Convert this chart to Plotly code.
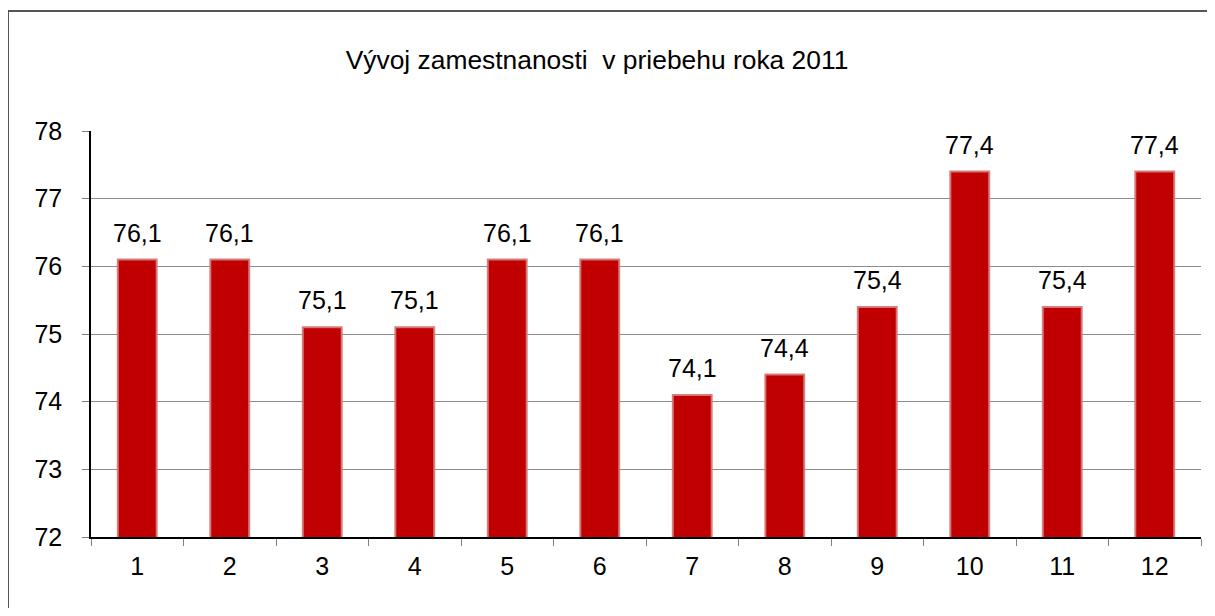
import plotly.graph_objects as go

months = ["1", "2", "3", "4", "5", "6", "7", "8", "9", "10", "11", "12"]
values = [76.1, 76.1, 75.1, 75.1, 76.1, 76.1, 74.1, 74.4, 75.4, 77.4, 75.4, 77.4]
labels = [f"{v:.1f}".replace(".", ",") for v in values]
title = "Vývoj zamestnanosti  v priebehu roka 2011"

# page body has an 8px margin on every side; keep the figure inside the window
OFF = 8
W, H = 1215 - 2 * OFF, 616 - 2 * OFF
L, T = 91 - OFF, 131 - OFF
R = W - (1201 - OFF)
B = H - (537 - OFF)
FRAME_X, FRAME_Y = 9 - OFF, 12 - OFF
FONT = "Liberation Sans, Arial"

fig = go.Figure()
fig.add_trace(go.Bar(
    x=months, y=values,
    marker=dict(color="#C00000", line=dict(color="rgba(214,120,120,0.95)", width=2)),
    width=0.42,
))

# invisible helper trace so the frame axes (x2/y2) are rendered
fig.add_trace(go.Scatter(x=[0.5], y=[0.5], xaxis="x2", yaxis="y2", mode="markers",
                         marker=dict(opacity=0, size=1), hoverinfo="skip", showlegend=False))

for i, (v, lab) in enumerate(zip(values, labels)):
    fig.add_annotation(x=i, y=v, xref="x", yref="y", text=lab, showarrow=False, yanchor="bottom",
                       yshift=11, font=dict(family=FONT, size=25, color="black"))

frame_axis = dict(showline=True, linecolor="#555555", linewidth=1.5, showgrid=False,
                  zeroline=False, showticklabels=False, ticks="", range=[0, 1],
                  fixedrange=True)

fig.update_layout(
    width=W, height=H,
    margin=dict(l=0, r=0, t=0, b=0, autoexpand=False),
    paper_bgcolor="white", plot_bgcolor="rgba(0,0,0,0)",
    showlegend=False,
    title=dict(text=title, x=(597 - OFF) / W, xanchor="center", y=1 - (60 - OFF) / H, yanchor="middle",
               font=dict(family=FONT, size=26.4, color="black")),
    font=dict(family=FONT, size=25, color="black"),
    xaxis=dict(domain=[L / W, (W - R) / W], anchor="y",
               type="category", tickson="boundaries", ticks="outside", ticklen=7,
               tickcolor="#808080", showline=True, linecolor="black", linewidth=1.5,
               showgrid=False, tickfont=dict(size=25), range=[-0.5, 11.5],
               ticklabelstandoff=6),
    yaxis=dict(domain=[B / H, (H - T) / H], anchor="x",
               range=[72, 78], dtick=1, ticks="outside", ticklen=7, tickcolor="#808080",
               showline=True, linecolor="black", linewidth=1.5,
               showgrid=True, gridcolor="#8c8c8c", gridwidth=1, zeroline=False,
               tickfont=dict(size=25), ticklabelstandoff=15),
    # chart frame: only its top and left edges fall inside the picture
    xaxis2=dict(domain=[FRAME_X / W, 1], anchor="y2", side="top", **frame_axis),
    yaxis2=dict(domain=[0, (H - FRAME_Y) / H], anchor="x2", side="left", **frame_axis),
)

fig.write_html("out.html")
